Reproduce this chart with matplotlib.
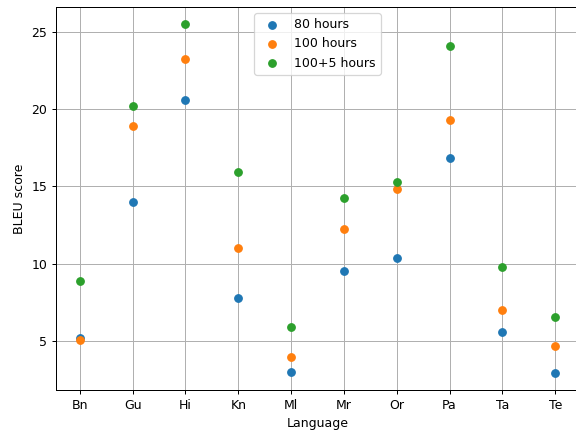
import matplotlib
matplotlib.use("Agg")
import matplotlib.pyplot as plt

languages = ["Bn", "Gu", "Hi", "Kn", "Ml", "Mr", "Or", "Pa", "Ta", "Te"]
bleu_80 = [5.17, 13.98, 20.61, 7.74, 2.95, 9.55, 10.35, 16.83, 5.56, 2.93]
bleu_100 = [5.06, 18.92, 23.28, 11.0, 3.94, 12.27, 14.82, 19.33, 7.01, 4.63]
bleu_105 = [8.87, 20.22, 25.51, 15.95, 5.89, 14.28, 15.30, 24.09, 9.81, 6.51]

fig = plt.figure(figsize=(6.4, 430 / 90), dpi=90)
ax = fig.add_axes([56 / 576, 40 / 430, 523 / 576, 383 / 430])

style = dict(s=36, linewidths=1.0, edgecolors="face", zorder=3)
ax.scatter(languages, bleu_80, label="80 hours", **style)
ax.scatter(languages, bleu_100, label="100 hours", **style)
ax.scatter(languages, bleu_105, label="100+5 hours", **style)

ax.set_xlabel("Language")
ax.set_ylabel("BLEU score")
ax.grid(True)
ax.legend(loc="upper center")

fig.savefig("out.png", dpi=90)
